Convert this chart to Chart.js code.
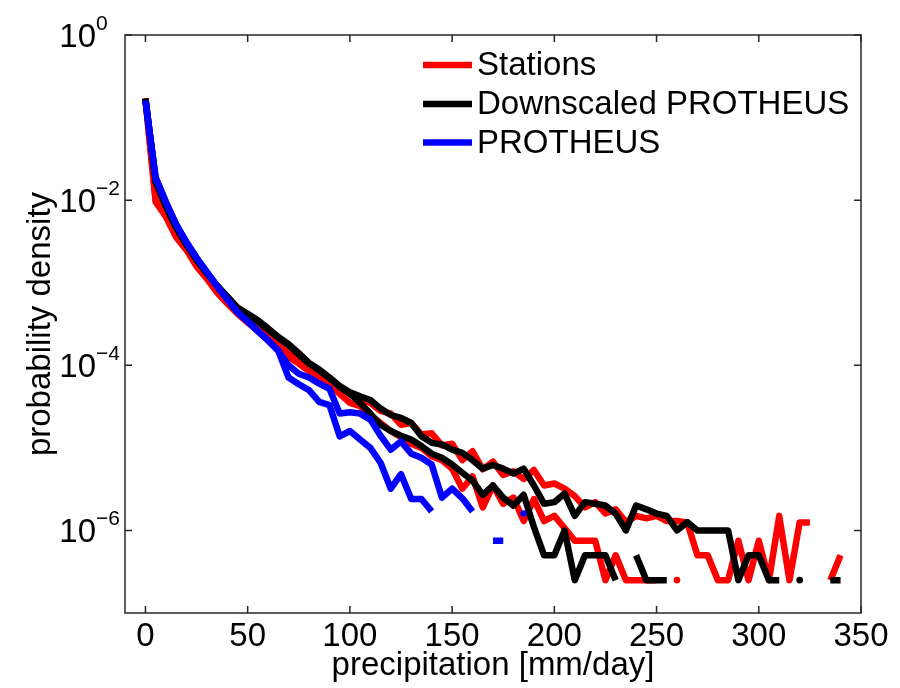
<!DOCTYPE html>
<html>
<head>
<meta charset="utf-8">
<script src="https://cdn.jsdelivr.net/npm/chart.js@4.4.0/dist/chart.umd.min.js"></script>
<style>
  html, body { margin: 0; padding: 0; background: #fff; }
  #chart { display: block; }
</style>
</head>
<body>
<canvas id="chart" width="900" height="688"></canvas>
<script>
// bin centres, mm/day
var precip = [0,5,10,15,20,25,30,35,40,45,50,55,60,65,70,75,80,85,90,95,
  100,105,110,115,120,125,130,135,140,145,150,155,160,165,170,175,180,185,190,195,
  200,205,210,215,220,225,230,235,240,245,250,255,260,265,270,275,280,285,290,295,
  300,305,310,315,320,325,330,335,340];

// stations (red)
var stationsA = [0.17,0.01,7.1e-3,3.8e-3,2.75e-3,1.66e-3,1.26e-3,7.9e-4,6.3e-4,4.5e-4,
  3.6e-4,2.8e-4,2.2e-4,1.75e-4,1.4e-4,1.15e-4,9.5e-5,8.0e-5,7.1e-5,5.4e-5,
  4.5e-5,3.8e-5,3.5e-5,2.8e-5,2.6e-5,1.9e-5,2.0e-5,1.45e-5,1.5e-5,1.07e-5,
  1.12e-5,7.1e-6,9.1e-6,5.5e-6,6.8e-6,4.7e-6,5.2e-6,4.2e-6,5.4e-6,3.5e-6,
  3.7e-6,3.2e-6,2.6e-6,1.9e-6,2.2e-6,1.6e-6,1.8e-6,1.26e-6,1.5e-6,1.4e-6,
  1.5e-6,1.3e-6,1.3e-6,1.25e-6,5e-7,5e-7,2.5e-7,2.5e-7,7.5e-7,2.5e-7,
  7.5e-7,2.5e-7,1.5e-6,2.5e-7,1.25e-6,1.25e-6,null,2.5e-7,5e-7];
var stationsB = [0.17,0.0095,6.3e-3,3.55e-3,2.5e-3,1.58e-3,1.12e-3,7.6e-4,5.6e-4,4.2e-4,
  3.3e-4,2.6e-4,2.0e-4,1.6e-4,1.25e-4,1.05e-4,8.5e-5,7.1e-5,6.0e-5,4.5e-5,
  3.5e-5,3.2e-5,2.5e-5,2.0e-5,1.6e-5,1.35e-5,1.12e-5,1.0e-5,7.9e-6,7.1e-6,
  5.6e-6,3.2e-6,4.5e-6,1.9e-6,3.5e-6,2.1e-6,2.5e-6,1.3e-6,2.4e-6,1.3e-6,
  1.5e-6,1.07e-6,7.5e-7,7.5e-7,7.5e-7,2.5e-7,5e-7,2.5e-7,2.5e-7,2.5e-7,
  2.5e-7,null,2.5e-7,null,null,null,null,null,null,null,
  null,null,null,null,null,null,null,null,null];

// downscaled PROTHEUS (black)
var downA = [0.17,0.0166,8.5e-3,4.7e-3,2.9e-3,1.9e-3,1.32e-3,9.3e-4,6.8e-4,5.0e-4,
  4.2e-4,3.5e-4,2.8e-4,2.2e-4,1.8e-4,1.4e-4,1.07e-4,8.9e-5,7.1e-5,5.6e-5,
  4.7e-5,4.2e-5,3.8e-5,3.0e-5,2.5e-5,2.3e-5,2.0e-5,1.38e-5,1.15e-5,1.1e-5,
  9.5e-6,8.7e-6,7.1e-6,5.6e-6,6.2e-6,5.6e-6,4.9e-6,5.6e-6,3.5e-6,2.1e-6,
  2.2e-6,2.8e-6,1.5e-6,2.2e-6,2.1e-6,2.0e-6,1.6e-6,1.0e-6,2.0e-6,1.8e-6,
  1.6e-6,1.5e-6,1.0e-6,1.26e-6,1.0e-6,1.0e-6,1.0e-6,1.0e-6,2.5e-7,5e-7,
  5e-7,2.5e-7,2.5e-7,null,2.5e-7,null,null,2.5e-7,2.5e-7];
var downB = [0.17,0.0166,8.5e-3,4.7e-3,2.9e-3,1.9e-3,1.3e-3,9.2e-4,6.7e-4,4.9e-4,
  4.1e-4,3.4e-4,2.7e-4,2.15e-4,1.75e-4,1.35e-4,1.05e-4,8.7e-5,7.0e-5,5.5e-5,
  4.5e-5,3.5e-5,2.6e-5,1.9e-5,1.6e-5,1.4e-5,1.26e-5,1.05e-5,8.5e-6,7.6e-6,
  6.3e-6,5.0e-6,4.0e-6,2.7e-6,3.5e-6,2.5e-6,2.0e-6,2.7e-6,1.1e-6,5e-7,
  5e-7,1.0e-6,2.5e-7,5e-7,5e-7,5e-7,2.5e-7,null,5e-7,2.5e-7,
  2.5e-7,2.5e-7,null,null,null,null,null,null,null,null,
  null,null,null,null,null,null,null,null,null];

// PROTHEUS (blue)
var protA = [0.16,0.0186,9.5e-3,5.1e-3,3.1e-3,2.0e-3,1.35e-3,9.1e-4,6.3e-4,4.4e-4,
  3.4e-4,2.6e-4,2.0e-4,1.5e-4,1.0e-4,7.9e-5,7.1e-5,6.0e-5,5.2e-5,2.6e-5,
  2.7e-5,2.6e-5,2.2e-5,1.4e-5,9.5e-6,1.2e-5,8.5e-6,7.6e-6,6.3e-6,2.5e-6,
  3.2e-6,2.45e-6,1.7e-6,null,null,null,null,1.6e-6,null,null,
  null,null,null,null,null,null,null,null,null,null,
  null,null,null,null,null,null,null,null,null,null,
  null,null,null,null,null,null,null,null,null];
var protB = [0.16,0.0186,9.5e-3,5.1e-3,3.1e-3,2.0e-3,1.35e-3,9.1e-4,6.3e-4,4.4e-4,
  3.4e-4,2.6e-4,2.0e-4,1.5e-4,7.1e-5,5.9e-5,5.0e-5,3.6e-5,3.3e-5,1.38e-5,
  1.6e-5,1.26e-5,1.0e-5,6.6e-6,3.2e-6,4.8e-6,2.4e-6,2.4e-6,1.7e-6,null,
  null,null,null,null,7.5e-7,7.5e-7,null,null,null,null,
  null,null,null,null,null,null,null,null,null,null,
  null,null,null,null,null,null,null,null,null,null,
  null,null,null,null,null,null,null,null,null];

var xTicks = [0,50,100,150,200,250,300,350];
var yTicks = [1e-6,1e-4,1e-2,1];
var yTickExp = ["\u22126","\u22124","\u22122","0"];
var legendNames = ["Stations","Downscaled PROTHEUS","PROTHEUS"];
var legendColors = ["#ff0000","#000000","#0000ff"];

var FONT = "'Liberation Sans', Arial, Helvetica, sans-serif";

function pts(arr) {
  return precip.map(function(x, i) { return {x: x, y: arr[i]}; });
}

// a bin with empty bins on both sides only shows as a dot
function lonePoint(ctx) {
  var d = ctx.dataset.data, i = ctx.dataIndex;
  if (d[i].y == null) return 0;
  var prev = i > 0 ? d[i-1].y : null;
  var next = i < d.length - 1 ? d[i+1].y : null;
  return (prev == null && next == null) ? 3.3 : 0;
}

function series(arr, color) {
  return {
    data: pts(arr),
    borderColor: color,
    backgroundColor: color,
    borderWidth: 6.5,
    borderJoinStyle: 'round',
    pointRadius: lonePoint,
    pointBorderWidth: 0,
    pointHoverRadius: 0,
    tension: 0,
    spanGaps: false,
    fill: false
  };
}

// box, inward ticks, y labels with exponents, legend
var frame = {
  id: 'frame',
  afterDraw: function(chart) {
    var ctx = chart.ctx, a = chart.chartArea;
    var xs = chart.scales.x, ys = chart.scales.y;
    ctx.save();
    ctx.strokeStyle = '#262626';
    ctx.lineWidth = 1.5;
    ctx.strokeRect(a.left, a.top, a.right - a.left, a.bottom - a.top);
    var tl = 7;
    ctx.beginPath();
    xTicks.forEach(function(v) {
      var px = xs.getPixelForValue(v);
      ctx.moveTo(px, a.bottom); ctx.lineTo(px, a.bottom - tl);
      ctx.moveTo(px, a.top); ctx.lineTo(px, a.top + tl);
    });
    yTicks.forEach(function(v) {
      var py = ys.getPixelForValue(v);
      ctx.moveTo(a.left, py); ctx.lineTo(a.left + tl, py);
      ctx.moveTo(a.right, py); ctx.lineTo(a.right - tl, py);
    });
    ctx.stroke();

    ctx.fillStyle = '#000';
    ctx.textBaseline = 'alphabetic';
    yTicks.forEach(function(v, i) {
      var py = ys.getPixelForValue(v);
      var bx = 96;
      ctx.font = '33px ' + FONT;
      ctx.textAlign = 'right';
      ctx.fillText('10', bx, py + 12);
      ctx.font = '21px ' + FONT;
      ctx.textAlign = 'left';
      ctx.fillText(yTickExp[i], bx, py - 5);
    });

    ctx.font = '33px ' + FONT;
    ctx.textAlign = 'left';
    ctx.textBaseline = 'middle';
    var rowY = [65, 104, 142.5];
    legendNames.forEach(function(name, i) {
      ctx.strokeStyle = legendColors[i];
      ctx.lineWidth = 6.5;
      ctx.beginPath();
      ctx.moveTo(423, rowY[i]); ctx.lineTo(472, rowY[i]);
      ctx.stroke();
      ctx.fillText(name, 477, rowY[i] + 1);
    });
    ctx.restore();
  }
};

new Chart(document.getElementById('chart'), {
  type: 'line',
  data: {
    datasets: [
      series(protA, '#0000ff'),
      series(protB, '#0000ff'),
      series(downA, '#000000'),
      series(downB, '#000000'),
      series(stationsA, '#ff0000'),
      series(stationsB, '#ff0000')
    ]
  },
  options: {
    responsive: false,
    animation: false,
    devicePixelRatio: 1,
    events: [],
    layout: { padding: { top: 35, right: 39, left: 0, bottom: 0 } },
    plugins: { legend: { display: false }, tooltip: { enabled: false } },
    scales: {
      x: {
        type: 'linear',
        min: -10,
        max: 350,
        afterBuildTicks: function(scale) {
          scale.ticks = xTicks.map(function(v) { return {value: v}; });
        },
        afterFit: function(scale) { scale.height = 75; },
        grid: { display: false, drawTicks: false },
        border: { display: false },
        ticks: {
          autoSkip: false,
          maxRotation: 0,
          padding: 4,
          color: '#000',
          font: { size: 33, family: FONT },
          callback: function(v) { return String(v); }
        },
        title: {
          display: true,
          text: 'precipitation [mm/day]',
          color: '#000',
          font: { size: 33, family: FONT },
          padding: { top: 0, bottom: 2 }
        }
      },
      y: {
        type: 'logarithmic',
        min: 1e-7,
        max: 1,
        afterBuildTicks: function(scale) {
          scale.ticks = yTicks.map(function(v) { return {value: v}; });
        },
        afterFit: function(scale) { scale.width = 125; },
        grid: { display: false, drawTicks: false },
        border: { display: false },
        ticks: { display: false },
        title: {
          display: true,
          text: 'probability density',
          color: '#000',
          font: { size: 33, family: FONT },
          padding: { top: 21, bottom: 0 }
        }
      }
    }
  },
  plugins: [frame]
});
</script>
</body>
</html>
